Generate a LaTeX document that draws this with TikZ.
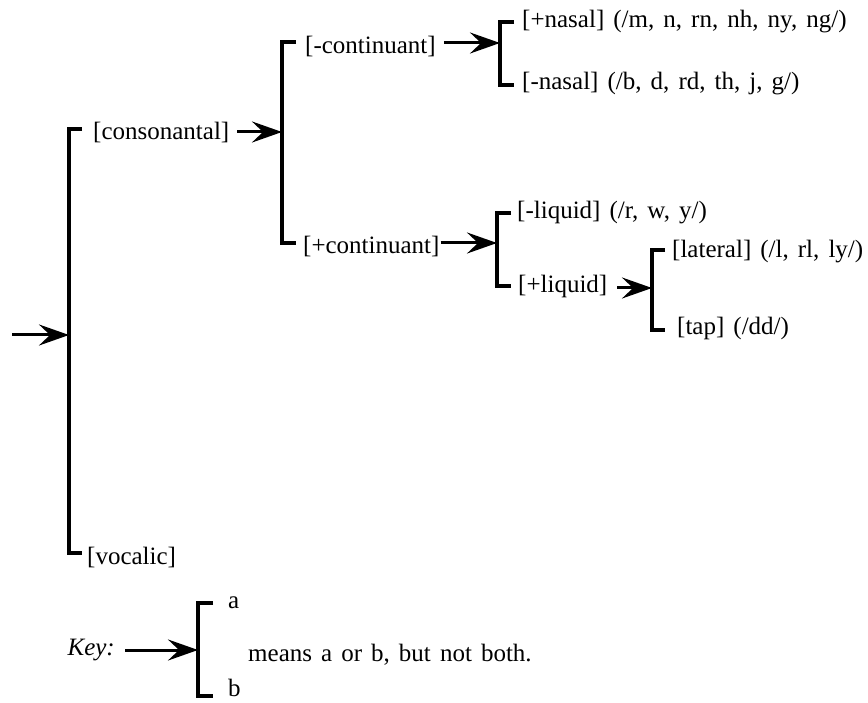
\documentclass[tikz,border=0pt]{standalone}
\usepackage{fontspec}
\setmainfont{Liberation Serif}[WordSpace=1.45]
\usetikzlibrary{arrows.meta}
\begin{document}
\begin{tikzpicture}[x=1pt,y=-1pt,
  brk/.style={line width=3.2pt, line cap=butt, line join=miter},
  feed/.style={line width=3pt, -{Stealth[length=30pt,width=21pt,inset=11pt]}},
  lbl/.style={anchor=west, inner sep=0pt, font=\fontsize{25}{29}\selectfont}]
\useasboundingbox (0,0) rectangle (868,703);

% ---- brackets (top tick, stem, bottom tick) ----
\draw[brk] (82,129) -- (69,129) -- (69,553) -- (82,553);    % consonantal / vocalic
\draw[brk] (296,42) -- (282,42) -- (282,243) -- (296,243);  % continuant
\draw[brk] (514,22) -- (500,22) -- (500,85) -- (514,85);    % nasal
\draw[brk] (511,213) -- (497,213) -- (497,286) -- (511,286);% liquid
\draw[brk] (665,250) -- (652,250) -- (652,330) -- (665,330);% lateral / tap
\draw[brk] (213,603) -- (198,603) -- (198,696) -- (213,696);% key

% ---- entry points on the bracket stems ----
\coordinate (inA) at (69,335);
\coordinate (inB) at (282,132);
\coordinate (inC) at (500,43);
\coordinate (inD) at (497,243);
\coordinate (inE) at (652,288);
\coordinate (inK) at (198,650);
\coordinate (start) at (12,335);

% ---- feature labels ----
\node[lbl] (cons)  at (93,133)  {[consonantal]};
\node[lbl] (voc)   at (87,557)  {[vocalic]};
\node[lbl] (mcont) at (305,47)  {[-continuant]};
\node[lbl] (pcont) at (303,247) {[+continuant]};
\node[lbl] (pnas)  at (522,22)  {[+nasal] (/m, n, rn, nh, ny, ng/)};
\node[lbl] (mnas)  at (522,84)  {[-nasal] (/b, d, rd, th, j, g/)};
\node[lbl] (mliq)  at (517,213) {[-liquid] (/r, w, y/)};
\node[lbl] (pliq)  at (518,286) {[+liquid]};
\node[lbl] (lat)   at (672,252) {[lateral] (/l, rl, ly/)};
\node[lbl] (tap)   at (677,328) {[tap] (/dd/)};

% ---- key ----
\node[lbl, anchor=east, font=\fontsize{25}{29}\selectfont\itshape] (key) at (115,650) {Key:};
\node[lbl] (ka) at (228,603) {a};
\node[lbl] (kb) at (228,688) {b};
\node[lbl] (kmean) at (248,655) {means a or b, but not both.};

% ---- arrows ----
\draw[feed] (start) -- (inA);
\draw[feed, shorten <=8pt] (cons.east |- inB) -- (inB);
\draw[feed, shorten <=8pt] (mcont.east |- inC) -- (inC);
\draw[feed, shorten <=1pt] (pcont.east |- inD) -- (inD);
\draw[feed, shorten <=10pt] (pliq.east |- inE) -- (inE);
\draw[feed, shorten <=10pt] (key.east |- inK) -- (inK);
\end{tikzpicture}
\end{document}
